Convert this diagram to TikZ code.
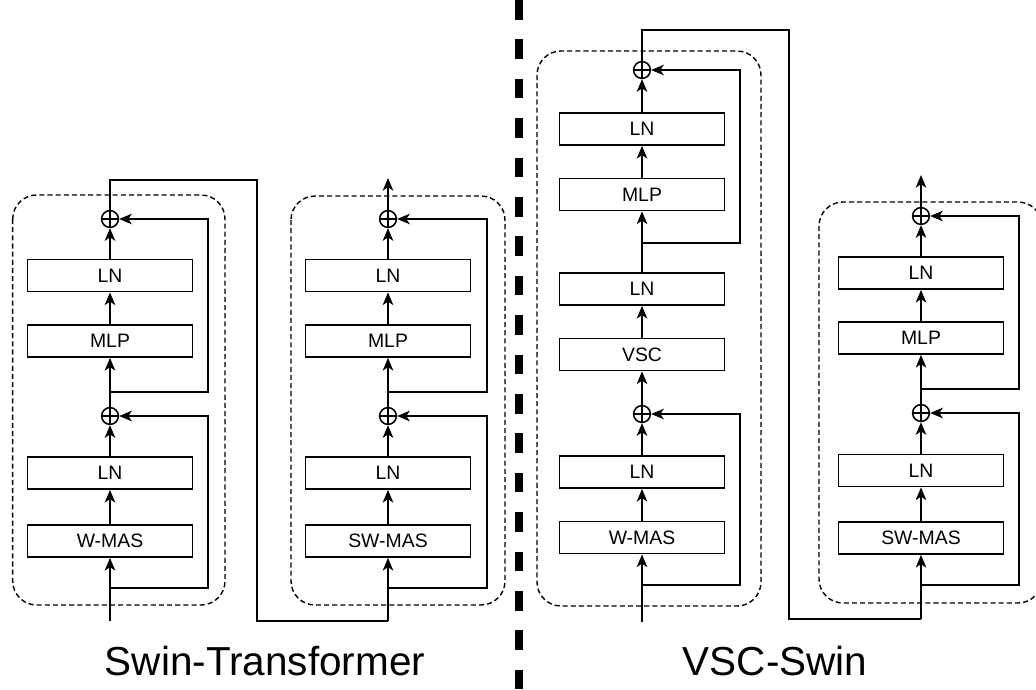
\documentclass[tikz,border=0pt]{standalone}
\usepackage{fontspec}
\setmainfont{Liberation Sans}
\usepackage{tikz}
\usetikzlibrary{arrows.meta}

\tikzset{
  blk/.style={draw, line width=1.3pt, minimum width=41.25mm, minimum height=8mm,
    inner sep=0pt, font=\fontsize{13.8}{16}\selectfont},
  sumnode/.style={circle, draw, line width=1.1pt, minimum size=4.2mm, inner sep=0pt,
    path picture={\draw[line width=1.1pt] (path picture bounding box.north) -- (path picture bounding box.south)
      (path picture bounding box.west) -- (path picture bounding box.east);}},
  group/.style={line width=1pt, dash pattern=on 3.6pt off 2.2pt, rounded corners=6mm},
  divider/.style={line width=2mm, dash pattern=on 4.9mm off 4.95mm},
  title/.style={anchor=base, font=\fontsize{28.8}{32}\selectfont}
}

\begin{document}
\begin{tikzpicture}[x=0.25mm,y=-0.25mm]
\clip (0,0) rectangle (1036,689);
\begin{scope}[>={Stealth[length=9pt,width=7.5pt,inset=2.5pt]}, line width=1.3pt]

    % dashed groups and the divider
    \draw[group] (12.7,195) rectangle (225,605);
    \draw[group] (291,196) rectangle (505,605);
    \draw[group] (537,51) rectangle (761,606);
    \draw[group] (819,202) rectangle (1042,603);
    \draw[divider] (519,0) -- (519,689);

    % Swin block, W-MAS
    \coordinate (ain) at (110,621);
    \coordinate (askip1) at (110,588);
    \coordinate (askip2) at (110,392);
    \node[blk] (amas) at (110,541) {W-MAS};
    \node[blk] (aln1) at (110,473) {LN};
    \node[sumnode] (asum1) at (110,416) {};
    \node[blk] (amlp) at (110,341) {MLP};
    \node[blk] (aln2) at (110,275.5) {LN};
    \node[sumnode] (asum2) at (110,219) {};

    \draw[->] (ain) -- (amas);
    \draw[->] (amas) -- (aln1);
    \draw[->] (aln1) -- (asum1);
    \draw[->] (asum1) -- (amlp);
    \draw[->] (amlp) -- (aln2);
    \draw[->] (aln2) -- (asum2);
    \draw[->] (askip1) -- ++(98,0) |- (asum1);
    \draw[->] (askip2) -- ++(98,0) |- (asum2);

    % Swin block, SW-MAS
    \coordinate (bin) at (388,621);
    \coordinate (bskip1) at (388,588);
    \coordinate (bskip2) at (388,392);
    \coordinate (bout) at (388,178);
    \node[blk] (bmas) at (388,541) {SW-MAS};
    \node[blk] (bln1) at (388,473) {LN};
    \node[sumnode] (bsum1) at (388,416) {};
    \node[blk] (bmlp) at (388,341) {MLP};
    \node[blk] (bln2) at (388,275.5) {LN};
    \node[sumnode] (bsum2) at (388,219) {};

    \draw (asum2) |- (257,180) |- (bin);
    \draw[->] (bin) -- (bmas);
    \draw[->] (bmas) -- (bln1);
    \draw[->] (bln1) -- (bsum1);
    \draw[->] (bsum1) -- (bmlp);
    \draw[->] (bmlp) -- (bln2);
    \draw[->] (bln2) -- (bsum2);
    \draw[->] (bsum2) -- (bout);
    \draw[->] (bskip1) -- ++(99,0) |- (bsum1);
    \draw[->] (bskip2) -- ++(99,0) |- (bsum2);

    % VSC block, W-MAS
    \coordinate (cin) at (642,622);
    \coordinate (cskip1) at (642,585);
    \coordinate (cskip2) at (642,243);
    \node[blk] (cmas) at (642,537.5) {W-MAS};
    \node[blk] (cln1) at (642,472) {LN};
    \node[sumnode] (csum1) at (642,414) {};
    \node[blk] (cvsc) at (642,354.5) {VSC};
    \node[blk] (cln2) at (642,289) {LN};
    \node[blk] (cmlp) at (642,194.5) {MLP};
    \node[blk] (cln3) at (642,129) {LN};
    \node[sumnode] (csum2) at (642,70) {};

    \draw[->] (cin) -- (cmas);
    \draw[->] (cmas) -- (cln1);
    \draw[->] (cln1) -- (csum1);
    \draw[->] (csum1) -- (cvsc);
    \draw[->] (cvsc) -- (cln2);
    \draw[->] (cln2) -- (cmlp);
    \draw[->] (cmlp) -- (cln3);
    \draw[->] (cln3) -- (csum2);
    \draw[->] (cskip1) -- ++(98,0) |- (csum1);
    \draw[->] (cskip2) -- ++(98,0) |- (csum2);

    % VSC block, SW-MAS
    \coordinate (din) at (921,619);
    \coordinate (dskip1) at (921,585);
    \coordinate (dskip2) at (921,389);
    \coordinate (dout) at (921,175);
    \node[blk] (dmas) at (921,538) {SW-MAS};
    \node[blk] (dln1) at (921,470.5) {LN};
    \node[sumnode] (dsum1) at (921,413) {};
    \node[blk] (dmlp) at (921,338) {MLP};
    \node[blk] (dln2) at (921,273) {LN};
    \node[sumnode] (dsum2) at (921,216) {};

    \draw (csum2) |- (789,30) |- (din);
    \draw[->] (din) -- (dmas);
    \draw[->] (dmas) -- (dln1);
    \draw[->] (dln1) -- (dsum1);
    \draw[->] (dsum1) -- (dmlp);
    \draw[->] (dmlp) -- (dln2);
    \draw[->] (dln2) -- (dsum2);
    \draw[->] (dsum2) -- (dout);
    \draw[->] (dskip1) -- ++(98,0) |- (dsum1);
    \draw[->] (dskip2) -- ++(98,0) |- (dsum2);

    % titles
    \node[title] (swint) at (265,675) {Swin-Transformer};
    \node[title] (vsct) at (775,675) {VSC-Swin};

\end{scope}
\end{tikzpicture}
\end{document}
